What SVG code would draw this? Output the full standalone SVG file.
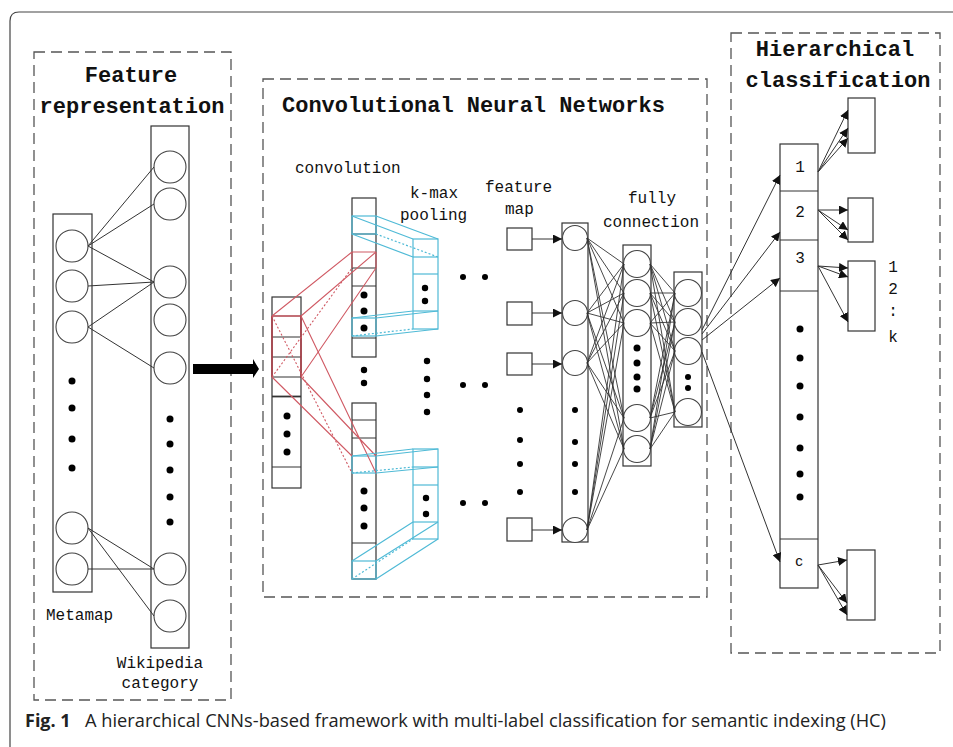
<svg xmlns="http://www.w3.org/2000/svg" width="953" height="747" viewBox="0 0 953 747">
<style>
.frame{fill:none;stroke:#444;stroke-width:1.2}
.dash{fill:none;stroke:#555;stroke-width:1.3;stroke-dasharray:11 6}
.box{fill:#fff;stroke:#333;stroke-width:1.2}
.nb{fill:none;stroke:#333;stroke-width:1.2}
.cir{fill:#fff;stroke:#444;stroke-width:1.1}
.ln{stroke:#333;stroke-width:1;fill:none}
.red{stroke:#d05a64;stroke-width:1.1;fill:none}
.redd{stroke:#d05a64;stroke-width:1.1;fill:none;stroke-dasharray:2 2}
.cy{stroke:#4fbad6;stroke-width:1.2;fill:none}
.cyd{stroke:#4fbad6;stroke-width:1.2;fill:none;stroke-dasharray:2 2}
.dot{fill:#000}
.ttl{font-family:"Liberation Mono","DejaVu Sans Mono",monospace;font-size:22px;font-weight:bold;fill:#111}
.lbl{font-family:"Liberation Mono","DejaVu Sans Mono",monospace;font-size:16px;fill:#111}
.cap{font-family:"Open Sans","Noto Sans",sans-serif;font-size:18px;fill:#222}
</style>
<defs>
<marker id="ah" viewBox="0 0 10 10" refX="10" refY="5" markerWidth="9" markerHeight="9" markerUnits="userSpaceOnUse" orient="auto">
<path d="M0,0 L10,5 L0,10 z" fill="#111"/>
</marker>
</defs>
<rect width="953" height="747" fill="#fff"/>
<path class="frame" d="M10,747 V21 Q10,12 19,12 H953"/>

<g id="panel-feature">
<rect class="dash" x="34" y="52" width="197" height="648"/>
<text class="ttl" x="131" y="82" text-anchor="middle">Feature</text>
<text class="ttl" x="132" y="113" text-anchor="middle">representation</text>
</g>

<g id="metamap">
<rect class="nb" x="53" y="214" width="39" height="378"/>
<circle class="cir" cx="72" cy="246" r="16"/>
<circle class="cir" cx="72" cy="286" r="16"/>
<circle class="cir" cx="72" cy="327" r="16"/>
<circle class="cir" cx="72" cy="528" r="16"/>
<circle class="cir" cx="72" cy="569" r="16"/>
<circle class="dot" cx="72" cy="381" r="3.5"/>
<circle class="dot" cx="72" cy="408" r="3.5"/>
<circle class="dot" cx="72" cy="439" r="3.5"/>
<circle class="dot" cx="72" cy="468" r="3.5"/>
<text class="lbl" x="46" y="620">Metamap</text>
</g>

<g id="wikipedia">
<rect class="nb" x="151" y="126" width="38" height="522"/>
<circle class="cir" cx="170" cy="167" r="16"/>
<circle class="cir" cx="170" cy="204" r="16"/>
<circle class="cir" cx="170" cy="282" r="16"/>
<circle class="cir" cx="170" cy="320" r="16"/>
<circle class="cir" cx="170" cy="368" r="16"/>
<circle class="cir" cx="170" cy="569" r="16"/>
<circle class="cir" cx="170" cy="616" r="16"/>
<circle class="dot" cx="170" cy="419" r="3.5"/>
<circle class="dot" cx="170" cy="444" r="3.5"/>
<circle class="dot" cx="170" cy="470" r="3.5"/>
<circle class="dot" cx="170" cy="497" r="3.5"/>
<circle class="dot" cx="170" cy="522" r="3.5"/>
<text class="lbl" x="160" y="668" text-anchor="middle">Wikipedia</text>
<text class="lbl" x="160" y="688" text-anchor="middle">category</text>
</g>

<g id="panel-cnn">
<rect class="dash" x="263" y="79" width="444" height="518"/>
<text class="ttl" x="282" y="112">Convolutional Neural Networks</text>
<text class="lbl" x="295" y="173">convolution</text>
<text class="lbl" x="410" y="198">k-max</text>
<text class="lbl" x="400" y="220">pooling</text>
<text class="lbl" x="485" y="192">feature</text>
<text class="lbl" x="505" y="214">map</text>
<text class="lbl" x="628" y="203">fully</text>
<text class="lbl" x="603" y="227">connection</text>
</g>

<g id="input-matrix">
<rect class="nb" x="272" y="297" width="29" height="191"/>
<line class="ln" x1="272" y1="337" x2="301" y2="337"/>
<line class="ln" x1="272" y1="357" x2="301" y2="357"/>
<line class="ln" x1="272" y1="377" x2="301" y2="377"/>
<line class="ln" x1="272" y1="396.5" x2="301" y2="396.5" style="stroke-width:1.8"/>
<line class="ln" x1="272" y1="467" x2="301" y2="467"/>
<path class="red" d="M272,316 H301 M272,316 V377 M301,316 V377" style="stroke-width:1.6;stroke:#b0404a"/>
<circle class="dot" cx="287" cy="416" r="3.5"/>
<circle class="dot" cx="287" cy="434" r="3.5"/>
<circle class="dot" cx="287" cy="452" r="3.5"/>
</g>

<g id="conv-top">
<rect class="nb" x="352" y="198" width="24" height="159"/>
<line class="ln" x1="352" y1="234" x2="376" y2="234"/>
<line class="ln" x1="352" y1="268" x2="376" y2="268"/>
<line class="ln" x1="352" y1="286" x2="376" y2="286"/>
<line class="ln" x1="352" y1="338" x2="376" y2="338"/>
<path class="red" d="M352,252 H376 M352,252 V268 M376,252 V268"/>
<rect class="cy" x="352" y="216" width="24" height="18"/>
<rect class="cy" x="352" y="318" width="24" height="18"/>
<circle class="dot" cx="364" cy="295" r="3.5"/>
<circle class="dot" cx="364" cy="311" r="3.5"/>
<circle class="dot" cx="364" cy="328" r="3.5"/>
</g>

<g id="conv-bottom">
<rect class="nb" x="352" y="403" width="24" height="176"/>
<line class="ln" x1="352" y1="420" x2="376" y2="420"/>
<line class="ln" x1="352" y1="438" x2="376" y2="438"/>
<line class="ln" x1="352" y1="543" x2="376" y2="543"/>
<rect class="cy" x="352" y="456" width="24" height="17"/>
<rect class="cy" x="352" y="561" width="24" height="18"/>
<circle class="dot" cx="364" cy="491" r="3.5"/>
<circle class="dot" cx="364" cy="508" r="3.5"/>
<circle class="dot" cx="364" cy="526" r="3.5"/>
</g>

<g id="pool-top">
<rect class="cy" x="413" y="239" width="25" height="90"/>
<line class="cy" x1="413" y1="257" x2="438" y2="257"/>
<line class="cy" x1="413" y1="274" x2="438" y2="274"/>
<line class="cy" x1="413" y1="311" x2="438" y2="311"/>
<circle class="dot" cx="425" cy="288" r="3.2"/>
<circle class="dot" cx="425" cy="301" r="3.2"/>
</g>

<g id="pool-bottom">
<rect class="cy" x="413" y="449" width="25" height="90"/>
<line class="cy" x1="413" y1="467" x2="438" y2="467"/>
<line class="cy" x1="413" y1="485" x2="438" y2="485"/>
<line class="cy" x1="413" y1="522" x2="438" y2="522"/>
<circle class="dot" cx="426" cy="498" r="3.2"/>
<circle class="dot" cx="426" cy="514" r="3.2"/>
</g>

<g id="cnn-dots">
<circle class="dot" cx="364" cy="370" r="3.2"/>
<circle class="dot" cx="364" cy="383" r="3.2"/>
<circle class="dot" cx="427" cy="361" r="3.2"/>
<circle class="dot" cx="427" cy="379" r="3.2"/>
<circle class="dot" cx="427" cy="395" r="3.2"/>
<circle class="dot" cx="427" cy="412" r="3.2"/>
<circle class="dot" cx="463" cy="277" r="3"/>
<circle class="dot" cx="485" cy="277" r="3"/>
<circle class="dot" cx="463" cy="385" r="3"/>
<circle class="dot" cx="485" cy="385" r="3"/>
<circle class="dot" cx="463" cy="503" r="3"/>
<circle class="dot" cx="485" cy="503" r="3"/>
<circle class="dot" cx="520" cy="410" r="3"/>
<circle class="dot" cx="520" cy="440" r="3"/>
<circle class="dot" cx="520" cy="464" r="3"/>
<circle class="dot" cx="520" cy="492" r="3"/>
</g>

<g id="feature-maps">
<rect class="box" x="507" y="228" width="25" height="22"/>
<rect class="box" x="507" y="302" width="25" height="23"/>
<rect class="box" x="507" y="353" width="25" height="22"/>
<rect class="box" x="507" y="518" width="25" height="23"/>
</g>

<g id="fm-layer">
<rect class="nb" x="562" y="223" width="26" height="319"/>
<circle class="cir" cx="575" cy="238" r="12.5"/>
<circle class="cir" cx="575" cy="313" r="12.5"/>
<circle class="cir" cx="575" cy="363" r="12.5"/>
<circle class="cir" cx="575" cy="530" r="12.5"/>
<circle class="dot" cx="575" cy="410" r="3"/>
<circle class="dot" cx="575" cy="442" r="3"/>
<circle class="dot" cx="575" cy="464" r="3"/>
<circle class="dot" cx="575" cy="492" r="3"/>
</g>

<g id="fc1">
<rect class="nb" x="623" y="245" width="28" height="221"/>
<circle class="cir" cx="637" cy="264" r="13.5"/>
<circle class="cir" cx="637" cy="293" r="13.5"/>
<circle class="cir" cx="637" cy="323" r="13.5"/>
<circle class="cir" cx="637" cy="418" r="13.5"/>
<circle class="cir" cx="637" cy="449" r="13.5"/>
<circle class="dot" cx="637" cy="348" r="3.5"/>
<circle class="dot" cx="637" cy="363" r="3.5"/>
<circle class="dot" cx="637" cy="377" r="3.5"/>
<circle class="dot" cx="637" cy="389" r="3.5"/>
</g>

<g id="fc2">
<rect class="nb" x="674" y="272" width="28" height="155"/>
<circle class="cir" cx="688" cy="293" r="13.5"/>
<circle class="cir" cx="688" cy="322" r="13.5"/>
<circle class="cir" cx="688" cy="351" r="13.5"/>
<circle class="cir" cx="688" cy="412" r="13.5"/>
<circle class="dot" cx="688" cy="377" r="3"/>
<circle class="dot" cx="688" cy="388" r="3"/>
</g>

<g id="panel-hc">
<rect class="dash" x="731" y="33" width="209" height="620"/>
<text class="ttl" x="835" y="56" text-anchor="middle">Hierarchical</text>
<text class="ttl" x="838" y="87" text-anchor="middle">classification</text>
</g>

<g id="class-column">
<rect class="nb" x="780" y="144" width="38" height="444"/>
<line class="ln" x1="780" y1="191" x2="818" y2="191"/>
<line class="ln" x1="780" y1="240" x2="818" y2="240"/>
<line class="ln" x1="780" y1="291" x2="818" y2="291"/>
<line class="ln" x1="780" y1="539" x2="818" y2="539"/>
<text class="lbl" x="800" y="172" text-anchor="middle">1</text>
<text class="lbl" x="800" y="217" text-anchor="middle">2</text>
<text class="lbl" x="800" y="263" text-anchor="middle">3</text>
<text x="799" y="566" text-anchor="middle" style="font-family:'Liberation Sans',Arial,sans-serif;font-size:15px;fill:#111">c</text>
<circle class="dot" cx="800" cy="329" r="3.5"/>
<circle class="dot" cx="800" cy="358" r="3.5"/>
<circle class="dot" cx="800" cy="386" r="3.5"/>
<circle class="dot" cx="800" cy="417" r="3.5"/>
<circle class="dot" cx="800" cy="448" r="3.5"/>
<circle class="dot" cx="800" cy="474" r="3.5"/>
<circle class="dot" cx="800" cy="497" r="3.5"/>
</g>

<g id="out-1"><rect class="box" x="848" y="98" width="27" height="55"/></g>
<g id="out-2"><rect class="box" x="848" y="198" width="25" height="44"/></g>
<g id="out-3"><rect class="box" x="848" y="261" width="27" height="70"/></g>
<g id="out-c"><rect class="box" x="847" y="550" width="28" height="70"/></g>
<g id="k-labels">
<text class="lbl" x="893" y="272" text-anchor="middle">1</text>
<text class="lbl" x="893" y="294" text-anchor="middle">2</text>
<text class="lbl" x="893" y="316" text-anchor="middle">:</text>
<text class="lbl" x="893" y="342" text-anchor="middle">k</text>
</g>

<g id="connectors">
<path class="ln" d="M88,246 L154,167 M88,246 L154,204 M88,246 L154,282 M88,286 L154,282 M88,327 L154,282 M88,327 L154,368 M88,528 L154,569 M88,528 L154,616 M88,569 L154,569"/>
<path d="M193,364 H253 V359 L259,369 L253,378 V374 H193 Z" fill="#000"/>
<path class="red" d="M272,316 L352,252 M301,316 L376,252 M301,377 L376,268"/>
<path class="redd" d="M272,377 L352,268"/>
<path class="red" d="M272,377 L352,456 M301,377 L376,456 M301,316 L376,473"/>
<path class="redd" d="M272,316 L352,473"/>
<path class="cy" d="M352,216 L413,239 M376,216 L438,239 M352,234 L413,257"/>
<path class="cyd" d="M376,234 L438,257"/>
<path class="cy" d="M352,318 L413,311 M376,318 L438,311 M376,336 L438,329"/>
<path class="cyd" d="M352,336 L413,329"/>
<path class="cy" d="M352,456 L413,449 M376,456 L438,449 M376,473 L438,467"/>
<path class="cyd" d="M352,473 L413,467"/>
<path class="cy" d="M352,561 L413,522 M376,561 L438,522 M376,579 L438,539"/>
<path class="cyd" d="M352,579 L413,539"/>
<line class="ln" x1="532" y1="239" x2="562" y2="239" marker-end="url(#ah)"/>
<line class="ln" x1="532" y1="313" x2="562" y2="313" marker-end="url(#ah)"/>
<line class="ln" x1="532" y1="364" x2="562" y2="364" marker-end="url(#ah)"/>
<line class="ln" x1="532" y1="530" x2="562" y2="530" marker-end="url(#ah)"/>
<path class="ln" style="stroke-width:0.9" d="
M587,238 L624,264 M587,238 L624,293 M587,238 L624,323 M587,238 L624,418 M587,238 L624,449
M587,313 L624,264 M587,313 L624,293 M587,313 L624,323 M587,313 L624,418 M587,313 L624,449
M587,363 L624,264 M587,363 L624,293 M587,363 L624,323 M587,363 L624,418 M587,363 L624,449
M587,530 L624,264 M587,530 L624,293 M587,530 L624,323 M587,530 L624,418 M587,530 L624,449"/>
<path class="ln" style="stroke-width:0.9" d="
M650,264 L675,293 M650,264 L675,322 M650,264 L675,351 M650,264 L675,412
M650,293 L675,293 M650,293 L675,322 M650,293 L675,351 M650,293 L675,412
M650,323 L675,293 M650,323 L675,322 M650,323 L675,351 M650,323 L675,412
M650,418 L675,293 M650,418 L675,322 M650,418 L675,351 M650,418 L675,412
M650,449 L675,293 M650,449 L675,322 M650,449 L675,351 M650,449 L675,412"/>
<line class="ln" x1="702" y1="330" x2="780" y2="175" marker-end="url(#ah)"/>
<line class="ln" x1="702" y1="334" x2="780" y2="232" marker-end="url(#ah)"/>
<line class="ln" x1="702" y1="340" x2="780" y2="278" marker-end="url(#ah)"/>
<line class="ln" x1="702" y1="352" x2="780" y2="562" marker-end="url(#ah)"/>
<line class="ln" x1="818" y1="172" x2="848" y2="110" marker-end="url(#ah)"/>
<line class="ln" x1="818" y1="172" x2="848" y2="128" marker-end="url(#ah)"/>
<line class="ln" x1="818" y1="172" x2="848" y2="138" marker-end="url(#ah)"/>
<line class="ln" x1="818" y1="210" x2="848" y2="210" marker-end="url(#ah)"/>
<line class="ln" x1="818" y1="210" x2="848" y2="230" marker-end="url(#ah)"/>
<line class="ln" x1="818" y1="210" x2="848" y2="240" marker-end="url(#ah)"/>
<line class="ln" x1="818" y1="266" x2="848" y2="268" marker-end="url(#ah)"/>
<line class="ln" x1="818" y1="266" x2="848" y2="277" marker-end="url(#ah)"/>
<line class="ln" x1="818" y1="266" x2="848" y2="322" marker-end="url(#ah)"/>
<line class="ln" x1="818" y1="565" x2="847" y2="560" marker-end="url(#ah)"/>
<line class="ln" x1="818" y1="565" x2="847" y2="603" marker-end="url(#ah)"/>
<line class="ln" x1="818" y1="565" x2="847" y2="615" marker-end="url(#ah)"/>
</g>

<g id="caption">
<text class="cap" x="25" y="727" style="font-weight:bold">Fig. 1</text>
<text class="cap" x="85" y="727" textLength="801" lengthAdjust="spacingAndGlyphs">A hierarchical CNNs-based framework with multi-label classification for semantic indexing (HC)</text>
</g>
</svg>
